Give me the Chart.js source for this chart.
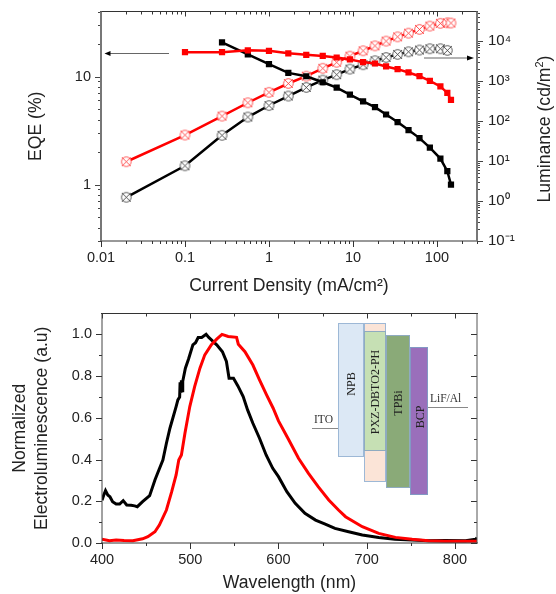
<!DOCTYPE html>
<html><head><meta charset="utf-8">
<style>
html,body{margin:0;padding:0;background:#fff;width:556px;height:594px;overflow:hidden}
#wrap{position:relative;width:556px;height:594px}
canvas{position:absolute;left:0}
.b{position:absolute;box-sizing:border-box;border:1px solid #9db8d6}
.v{position:absolute;font:12px "Liberation Serif",serif;color:#222;white-space:nowrap;transform:translate(-50%,-50%) rotate(-90deg)}
.h{position:absolute;font:11.5px "Liberation Serif",serif;color:#333;white-space:nowrap}
#lum{position:absolute;left:544px;top:129px;font:17.6px "Liberation Sans",sans-serif;color:#222;white-space:nowrap;transform:translate(-50%,-50%) rotate(-90deg)}
#lum sup{font-size:11px;line-height:0}
svg{position:absolute;left:0;top:0}
</style>
<script src="https://cdn.jsdelivr.net/npm/chart.js@4"></script>
</head><body><div id="wrap">
<canvas id="c1" width="556" height="297" style="top:0"></canvas>
<canvas id="c2" width="556" height="297" style="top:297px"></canvas>
<div id="lum">Luminance (cd/m<sup>2</sup>)</div>
<svg width="556" height="594">
<line x1="169" y1="53.5" x2="108" y2="53.5" stroke="#666" stroke-width="1"/><path d="M104.5 53.5l6-2.5v5z" fill="#000"/>
<line x1="424" y1="58" x2="468" y2="58" stroke="#666" stroke-width="1"/><path d="M474 58l-7-2.5v5z" fill="#000"/>
<line x1="312" y1="428.5" x2="338" y2="428.5" stroke="#888" stroke-width="1"/>
<line x1="428" y1="407.5" x2="468" y2="407.5" stroke="#888" stroke-width="1"/>
</svg>
<div class="b" style="left:338px;top:323px;width:26px;height:134px;background:#dce8f5"></div>
<div class="b" style="left:364px;top:323px;width:22px;height:9px;background:#fbe4d7"></div>
<div class="b" style="left:364px;top:450px;width:22px;height:32px;background:#fbe4d7"></div>
<div class="b" style="left:364px;top:331px;width:22px;height:120px;background:#c6e0b4;border-color:#8fabc0"></div>
<div class="b" style="left:386px;top:335px;width:24px;height:153px;background:#8aaa78;border-color:#8fabc0"></div>
<div class="b" style="left:410px;top:347px;width:18px;height:148px;background:#9a6fbb;border-color:#8299c4"></div>
<div class="v" style="left:351px;top:384px">NPB</div>
<div class="v" style="left:374.5px;top:392px">PXZ-DBTO2-PH</div>
<div class="v" style="left:398px;top:403px">TPBi</div>
<div class="v" style="left:419.5px;top:417px">BCP</div>
<div class="h" style="left:314px;top:413px">ITO</div>
<div class="h" style="left:430px;top:392px">LiF/Al</div>
</div>
<script>
// ---- data ----
const currentDensity = [0.02,0.1,0.276,0.56,1,1.7,2.78,4.37,6.4,9.2,13.2,18.3,24.8,34,45.9,62,82.4,110,133,147];
const eqeBlack = [20.7,16,13,10.8,10.06,8.85,7.9,6.8,5.9,5.2,4.45,3.79,3.19,2.69,2.2,1.74,1.33,1.0];
const eqeRed = [16.8,16.8,17.5,17.3,16.4,15.9,15.5,15,14.4,13.6,13.2,12.4,11.7,10.9,10.07,9.1,8.1,7.05,6.07];
const lumBlack = [1.24,7.6,43.9,126,245,422,693,1060,1450,1995,2570,3230,3900,4650,5400,5980,6450,6450,5860];
const lumRed = [9.6,44.7,133,287,523,870,1330,2090,2950,4200,5730,7600,10000,12800,15800,19600,23700,27800,28700,28300];

const wlBlack = [400,402,404,406.5,409,412,416,420,424,428,433,437,440,446,454,460,463,469,473,477,484,486,488,488.5,489.5,490,491,491.5,494.5,498,503,506,509,513,518,521,524,530,536.5,541,544,549,554,560,565,571,578.5,586,593.5,600,609.5,619,630,642,653,664,679.5,695,713.6,732,751.5,770,789,812,823.5,825];
const elBlack = [0.205,0.23,0.251,0.23,0.222,0.198,0.187,0.187,0.203,0.182,0.181,0.178,0.174,0.198,0.227,0.302,0.334,0.398,0.478,0.55,0.654,0.686,0.70,0.77,0.72,0.78,0.73,0.775,0.838,0.881,0.95,0.96,0.985,0.985,1.0,0.985,0.974,0.95,0.917,0.87,0.79,0.79,0.753,0.702,0.638,0.574,0.502,0.422,0.358,0.318,0.246,0.19,0.142,0.11,0.091,0.07,0.054,0.038,0.026,0.018,0.014,0.011,0.012,0.011,0.018,0.025];
const wlRed = [400,408.5,416,425,435,446,452,460,465,473,479,484,487,490,494,499.5,505,511,516.5,524,530,536,543,552.5,554.5,562,571,578.5,586.5,594,600,611,622.7,634,645,657,668,676,695,713.6,732.6,751.5,770,789,825];
const elRed = [0.018,0.011,0.014,0.012,0.011,0.02,0.03,0.054,0.086,0.158,0.246,0.326,0.398,0.422,0.526,0.654,0.75,0.838,0.902,0.95,0.977,1.0,0.99,0.986,0.953,0.917,0.853,0.782,0.71,0.646,0.585,0.50,0.406,0.334,0.27,0.206,0.158,0.126,0.078,0.046,0.027,0.018,0.011,0.008,0.008];

const xTopLabels = {0.01:'0.01',0.1:'0.1',1:'1',10:'10',100:'100'};
const eqeLabels = {1:'1',10:'10'};
const lumLabels = {0.1:'10\u207B\u00B9',1:'10\u2070',10:'10\u00B9',100:'10\u00B2',1000:'10\u00B3',10000:'10\u2074'};
const wlLabels = [400,500,600,700,800];
const elLabels = ['0.0','0.2','0.4','0.6','0.8','1.0'];

const BLACK='#000', RED='#ff0000', TXT='#222';
const FONT='"Liberation Sans",Arial,sans-serif';

function crossMark(col){
  const c=document.createElement('canvas');c.width=c.height=13;
  const g=c.getContext('2d');
  g.fillStyle='#fff';g.beginPath();g.arc(6.5,6.5,5,0,7);g.fill();
  g.strokeStyle=col;g.lineWidth=0.9;g.globalAlpha=0.85;
  g.beginPath();g.arc(6.5,6.5,4.8,0,7);g.stroke();
  g.beginPath();g.moveTo(2,2);g.lineTo(11,11);g.moveTo(11,2);g.lineTo(2,11);g.stroke();
  return c;
}
function pts(xs,ys){return ys.map((y,i)=>({x:xs[i],y}));}
function logTicks(lo,hi,labels){
  const out=[];
  for(let e=-3;e<6;e++)for(let m=1;m<10;m++){
    const v=+(m*Math.pow(10,e)).toPrecision(3);
    if(v>=lo&&v<=hi)out.push({value:v,major:labels[v]!==undefined});
  }
  return out;
}
// tick marks: dir = +1 outward of plot, -1 inward
function tickMarks(specs){return{id:'tickMarks',afterDatasetsDraw(ch){
  const g=ch.ctx,a=ch.chartArea;g.save();
  specs.forEach(s=>{
    const sc=ch.scales[s.scale];
    const horiz=s.edge==='top'||s.edge==='bottom';
    const base={top:a.top,bottom:a.bottom,left:a.left,right:a.right}[s.edge];
    const sign=(s.edge==='bottom'||s.edge==='right')?1:-1;
    g.strokeStyle=s.color||'#333';g.lineWidth=1;
    sc.ticks.forEach(t=>{
      const p=Math.round(sc.getPixelForValue(t.value))+0.5;
      if(p<(horiz?a.left:a.top)-1||p>(horiz?a.right:a.bottom)+1)return;
      const len=(t.major?s.major:s.minor)*sign*s.dir;
      g.beginPath();
      if(horiz){g.moveTo(p,base);g.lineTo(p,base+len);}
      else{g.moveTo(base,p);g.lineTo(base+len,p);}
      g.stroke();
    });
    if(s.line){g.strokeStyle=s.line;g.lineWidth=s.lw||1;g.beginPath();
      if(horiz){g.moveTo(a.left-1,base);g.lineTo(a.right+1,base);}
      else{g.moveTo(base,a.top);g.lineTo(base,a.bottom);}
      g.stroke();}
  });
  g.restore();
}};}
function fit(prop,size){return s=>{s[prop]=size;s.paddingTop=s.paddingBottom=s.paddingLeft=s.paddingRight=0;};}
const tickFont={family:FONT,size:14.5};
const titleFont={family:FONT,size:17.6};
const noGrid={display:false,drawTicks:false};

new Chart(document.getElementById('c1'),{
  type:'line',
  data:{datasets:[
    {data:pts(currentDensity,lumBlack),yAxisID:'yR',borderColor:BLACK,borderWidth:2.5,pointStyle:crossMark('#222'),order:4},
    {data:pts(currentDensity,lumRed),yAxisID:'yR',borderColor:RED,borderWidth:2.5,pointStyle:crossMark('#ff2020'),order:3},
    {data:pts(currentDensity.slice(2),eqeBlack),yAxisID:'y',borderColor:BLACK,backgroundColor:BLACK,borderWidth:2.5,pointStyle:'rect',pointRadius:4.4,pointBorderWidth:0,order:2},
    {data:pts(currentDensity.slice(1),eqeRed),yAxisID:'y',borderColor:RED,backgroundColor:RED,borderWidth:2.5,pointStyle:'rect',pointRadius:4.4,pointBorderWidth:0,order:1}
  ]},
  options:{responsive:false,animation:false,events:[],
    layout:{padding:{top:11.5,left:0,right:0,bottom:0}},
    plugins:{legend:{display:false},tooltip:{enabled:false}},
    scales:{
      x:{type:'logarithmic',min:0.01,max:300,position:'bottom',
        afterBuildTicks:s=>{s.ticks=logTicks(0.01,300,xTopLabels);},afterFit:fit('height',56),
        grid:noGrid,border:{display:false},
        ticks:{autoSkip:false,maxRotation:0,padding:8,color:TXT,font:tickFont,callback:v=>xTopLabels[+(+v).toPrecision(3)]||''},
        title:{display:true,text:'Current Density (mA/cm\u00B2)',color:TXT,font:titleFont,padding:{top:12,bottom:0}}},
      y:{type:'logarithmic',min:0.3,max:40,position:'left',
        afterBuildTicks:s=>{s.ticks=logTicks(0.3,40,eqeLabels);},afterFit:fit('width',101),
        grid:noGrid,border:{display:false},
        ticks:{autoSkip:false,padding:10,color:TXT,font:tickFont,callback:v=>eqeLabels[+(+v).toPrecision(3)]||''},
        title:{display:true,text:'EQE (%)',color:TXT,font:titleFont,padding:{top:26,bottom:0}}},
      yR:{type:'logarithmic',min:0.1,max:55000,position:'right',
        afterBuildTicks:s=>{s.ticks=logTicks(0.1,55000,lumLabels);},afterFit:fit('width',79),
        grid:noGrid,border:{display:false},
        ticks:{autoSkip:false,padding:11,color:TXT,font:{family:FONT,size:15},callback:v=>lumLabels[+(+v).toPrecision(3)]||''}}
    }
  },
  plugins:[tickMarks([
    {scale:'x',edge:'bottom',dir:1,major:6,minor:3,line:'#333'},
    {scale:'x',edge:'top',dir:-1,major:5,minor:3,line:'#333'},
    {scale:'y',edge:'left',dir:1,major:6,minor:3,color:'#444',line:'#777',lw:2},
    {scale:'yR',edge:'right',dir:1,major:6,minor:3,color:'#444',line:'#777',lw:2}
  ])]
});

new Chart(document.getElementById('c2'),{
  type:'scatter',
  data:{datasets:[
    {data:pts(wlBlack,elBlack),showLine:true,borderColor:BLACK,borderWidth:3,pointRadius:0,order:2},
    {data:pts(wlRed,elRed),showLine:true,borderColor:RED,borderWidth:3,pointRadius:0,order:1}
  ]},
  options:{responsive:false,animation:false,events:[],
    layout:{padding:{top:16.5,left:0,right:79,bottom:0}},
    plugins:{legend:{display:false},tooltip:{enabled:false}},
    scales:{
      x:{type:'linear',min:400,max:825,position:'bottom',afterFit:fit('height',51),
        afterBuildTicks:s=>{s.ticks=[];for(let v=400;v<=825;v+=50)s.ticks.push({value:v,major:wlLabels.includes(v)});},
        grid:noGrid,border:{display:false},
        ticks:{autoSkip:false,maxRotation:0,padding:8,color:TXT,font:tickFont,callback:v=>wlLabels.includes(v)?String(v):''},
        title:{display:true,text:'Wavelength (nm)',color:TXT,font:titleFont,padding:{top:9,bottom:0}}},
      y:{type:'linear',min:0,max:1.1,position:'left',afterFit:fit('width',102),
        afterBuildTicks:s=>{s.ticks=[];for(let i=0;i<=10;i++)s.ticks.push({value:i/10,major:i%2===0});},
        grid:noGrid,border:{display:false},
        ticks:{autoSkip:false,padding:10,color:TXT,font:tickFont,callback:(v,i)=>i%2===0?elLabels[i/2]:''},
        title:{display:true,text:['Normalized','Electroluminescence (a.u)'],color:TXT,font:titleFont,padding:{top:10,bottom:0}}}
    }
  },
  plugins:[tickMarks([
    {scale:'x',edge:'bottom',dir:1,major:6,minor:3,line:'#333'},
    {scale:'x',edge:'top',dir:-1,major:5,minor:3,line:'#333'},
    {scale:'y',edge:'left',dir:1,major:6,minor:3,line:'#444'},
    {scale:'y',edge:'right',dir:-1,major:6,minor:3,line:'#555'}
  ])]
});
</script>
</body></html>
